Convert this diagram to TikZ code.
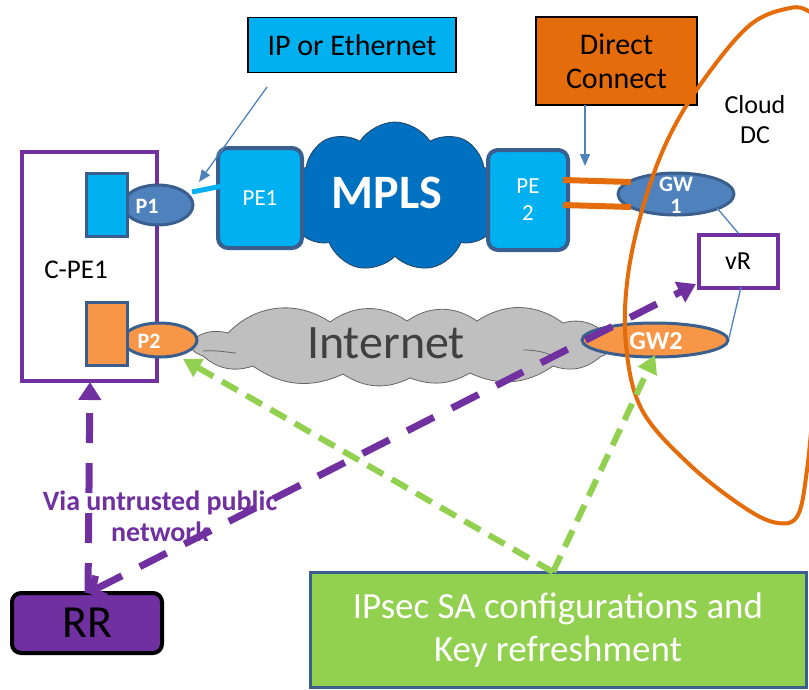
\documentclass[tikz,border=0pt]{standalone}
\usepackage{fontspec}
\setmainfont{Carlito}
\usetikzlibrary{shapes.geometric,shapes.symbols,arrows.meta}
\definecolor{cyanf}{HTML}{00B0F0}
\definecolor{mplsblue}{HTML}{0070C0}
\definecolor{edgeblue}{HTML}{3A5F8F}
\definecolor{gwblue}{HTML}{4F81BD}
\definecolor{orangef}{HTML}{E46C0A}
\definecolor{lorange}{HTML}{F79646}
\definecolor{purp}{HTML}{7030A0}
\definecolor{greenf}{HTML}{92D050}
\definecolor{cloudgray}{HTML}{BFBFBF}
\definecolor{txtgray}{HTML}{404040}
\newcommand{\fs}[1]{\fontsize{#1}{#1}\selectfont}
\tikzset{
  pebox/.style={draw=edgeblue, line width=4pt, fill=cyanf, rounded corners=10pt, minimum width=84pt, minimum height=100pt, text=white, font=\fs{23}, align=center, inner sep=0pt},
  portrect/.style={draw=edgeblue, line width=3pt, minimum width=41pt, minimum height=63pt, inner sep=0pt},
  portell/.style={ellipse, draw=edgeblue, line width=3pt, inner sep=0pt},
  whitebold/.style={text=white, font=\bfseries\fs{22}, align=center, inner sep=0pt},
  thinblue/.style={draw=gwblue, line width=1.3pt},
  purpdash/.style={draw=purp, line width=7pt, dash pattern=on 30pt off 20pt},
  greendash/.style={draw=greenf, line width=6pt, dash pattern=on 18pt off 10pt},
}
\begin{document}
\begin{tikzpicture}[x=1pt,y=-1pt]
\useasboundingbox (0,0) rectangle (809,689);
% clouds
\node[cloud, cloud puffs=9, cloud puff arc=115, cloud ignores aspect, minimum width=215pt, minimum height=150pt, fill=mplsblue, draw=edgeblue!70!black, line width=0.8pt] (mpls) at (395,197) {};
\node[text=white, font=\bfseries\fs{48}] (mplst) at (387,193) {MPLS};
\draw[fill=cloudgray, draw=black!60, line width=0.8pt]
  (188,344) to[bend left=30] (228,333) to[bend left=40] (330,322) to[bend left=35] (407,321)
  to[bend left=35] (477,321) to[bend left=35] (563,323) to[bend left=40] (612,344)
  to[bend left=30] (600,357) to[bend left=30] (553,366) to[bend left=30] (470,373)
  to[bend left=25] (410,378) to[bend left=30] (343,374) to[bend left=30] (253,366)
  to[bend left=30] (203,356) to[bend left=20] cycle;
\draw[black!60, line width=0.8pt] (203,351) .. controls (215,350) and (225,352) .. (236,353);
\draw[black!60, line width=0.8pt] (523,350) .. controls (535,350) and (545,352) .. (553,356);
\node[text=txtgray, font=\fs{48}] (inett) at (386,343) {Internet};
% PE boxes
\node[pebox] (pe1) at (260,198) {PE1};
\node[pebox, minimum width=80pt] (pe2) at (528,200) {PE\\[4pt]2};
% top boxes
\node[draw=black, line width=1.5pt, fill=cyanf, minimum width=208pt, minimum height=55pt, font=\fs{30}] (ip) at (352,45) {IP or Ethernet};
\node[draw=black, line width=1.5pt, fill=orangef, minimum width=161pt, minimum height=88pt, font=\fs{30}, align=center] (dc) at (616.5,61) {Direct\\[4pt]Connect};
\node[font=\fs{26}, align=center] (cdc) at (755,120) {Cloud\\[4pt]DC};
% C-PE1
\node[draw=purp, line width=4pt, minimum width=135pt, minimum height=229pt] (cpe) at (89.5,266.5) {};
\node[font=\fs{27}] (cpet) at (76,270) {C-PE1};
\node[portell, fill=gwblue, minimum width=70pt, minimum height=40pt] (p1e) at (158,205) {};
\node[portrect, fill=cyanf] (p1r) at (107,205) {};
\node[whitebold] (p1t) at (147,206) {P1};
\node[portell, fill=lorange, minimum width=74pt, minimum height=34pt] (p2e) at (160,340) {};
\node[portrect, fill=lorange] (p2r) at (107,334) {};
\node[whitebold] (p2t) at (149,341) {P2};
% GWs
\node[portell, fill=gwblue, minimum width=116pt, minimum height=42pt] (gw1) at (676,194) {};
\node[whitebold, font=\bfseries\fs{22}] (gw1t) at (676,195) {GW\\[0pt]1};
\node[portell, fill=lorange, minimum width=146pt, minimum height=34pt] (gw2) at (655,340) {};
\node[whitebold, font=\bfseries\fs{26}] (gw2t) at (656,341) {GW2};
\node[draw=purp, line width=4pt, fill=white, minimum width=79pt, minimum height=53pt, font=\fs{26}] (vr) at (738,261) {vR};
% connectors
\coordinate (ipa) at (267,87);
\coordinate (ipb) at (199,182);
\draw[thinblue, -{Triangle[width=10pt,length=12pt]}] (ipa) -- (ipb);
\coordinate (dca) at (585,105);
\coordinate (dcb) at (585,166);
\draw[thinblue, -{Triangle[width=10pt,length=12pt]}] (dca) -- (dcb);
\coordinate (p1c) at (192,192);
\coordinate (pe1c) at (222,186);
\draw[cyanf, line width=5pt] (p1c) -- (pe1c);
\coordinate (o1a) at (563,180); \coordinate (o1b) at (631,182);
\coordinate (o2a) at (563,205); \coordinate (o2b) at (631,207);
\draw[orangef, line width=6pt] (o1a) -- (o1b);
\draw[orangef, line width=6pt] (o2a) -- (o2b);
\coordinate (g1r) at (717,208); \coordinate (vrt) at (739,234);
\coordinate (vrb) at (741,287); \coordinate (g2r) at (729,338);
\draw[thinblue] (g1r) -- (vrt);
\draw[thinblue] (vrb) -- (g2r);
% Cloud DC boundary
\begin{scope}
\clip (0,0) rectangle (809,689);
\draw[orangef, line width=4pt] plot[smooth, tension=0.6] coordinates {(830,30) (810,12) (790,8) (750,25) (705,78) (670,135) (645,200) (628,275) (626,345) (642,410) (690,465) (745,508) (778,523) (798,515) (807,470) (812,420)};
\end{scope}
% IPsec and RR
\node[draw=edgeblue, line width=3pt, fill=greenf, minimum width=496pt, minimum height=115pt, text=white, font=\fs{37}, align=center] (ips) at (558,630) {IPsec SA configurations and\\[6pt]Key refreshment};
\node[draw=black, line width=4pt, fill=purp, rounded corners=9pt, minimum width=150pt, minimum height=60pt, font=\fs{46}] (rr) at (87,623) {RR};
% dashed connectors
\coordinate (ipst) at (553,572);
\coordinate (p2a) at (183,359);
\coordinate (gw2a) at (655,355);
\draw[greendash, -{Triangle[width=20pt,length=18pt]}] (ipst) -- (p2a);
\draw[greendash, -{Triangle[width=20pt,length=18pt]}] (ipst) -- (gw2a);
\coordinate (rrt) at (88,593);
\coordinate (cpeb) at (90,382);
\coordinate (vra) at (696,284);
\draw[purpdash, -{Triangle[width=22pt,length=18pt]}] (rrt) -- (cpeb);
\draw[purpdash, {Straight Barb[width=24pt,length=10pt]}-{Triangle[width=22pt,length=18pt]}] (rrt) -- (vra);
\node[text=purp, font=\bfseries\fs{28}, align=center] (via) at (160,516) {Via untrusted public\\[3pt]network};
\end{tikzpicture}
\end{document}
